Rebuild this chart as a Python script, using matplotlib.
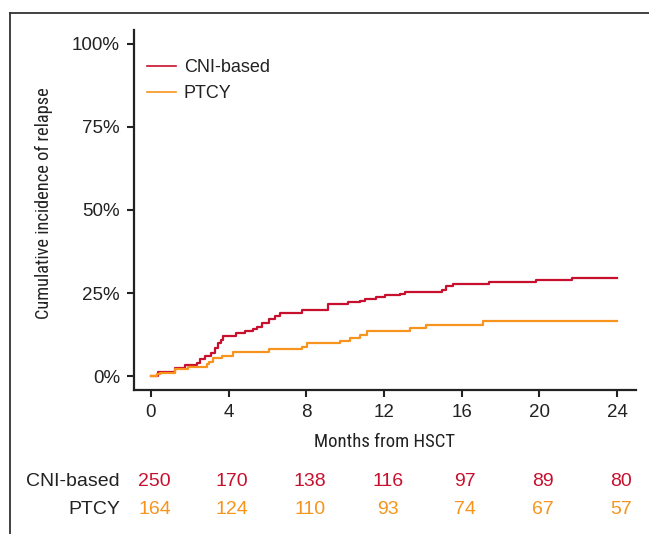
import matplotlib
matplotlib.use("Agg")
import matplotlib.pyplot as plt
from matplotlib.lines import Line2D
import matplotlib.transforms as mtransforms

# ---- data ----
cni_t = [0, 0.35, 1.24, 1.75, 2.37, 2.5, 2.8, 3.1, 3.3, 3.45, 3.6, 3.7, 4.4, 4.85, 5.25, 5.45,
         5.7, 6.1, 6.4, 6.65, 7.8, 9.1, 10.15, 10.75, 11.0, 11.6, 12.05, 12.8, 13.1, 15.0, 15.2,
         15.55, 17.4, 19.8, 21.7, 24]
cni_v = [0, 1.2, 2.4, 3.3, 3.9, 5.0, 6.0, 7.0, 8.5, 10.0, 11.0, 12.0, 13.0, 13.6, 14.2, 14.8,
         16.0, 17.2, 18.2, 19.0, 20.0, 21.7, 22.2, 22.6, 23.2, 23.8, 24.3, 24.7, 25.3, 25.9, 27.1,
         27.7, 28.3, 28.9, 29.5, 29.5]
ptcy_t = [0, 0.3, 0.45, 1.24, 1.9, 2.9, 3.0, 3.2, 3.65, 4.2, 6.1, 7.8, 8.05, 9.75, 10.25, 10.75,
          11.1, 13.35, 14.15, 17.1, 24]
ptcy_v = [0, 0.6, 0.9, 2.1, 2.7, 3.6, 4.2, 5.4, 6.0, 7.2, 8.1, 8.7, 9.9, 10.5, 11.4, 12.3,
          13.5, 14.4, 15.3, 16.6, 16.6]

risk_times = [0, 4, 8, 12, 16, 20, 24]
cni_risk = [250, 170, 138, 116, 97, 89, 80]
ptcy_risk = [164, 124, 110, 93, 74, 67, 57]
groups = ["CNI-based", "PTCY"]
y_ticks = [0, 25, 50, 75, 100]
y_ticklabels = ["0%", "25%", "50%", "75%", "100%"]

RED = "#C8102E"
ORANGE = "#F7941D"
DARK = "#222222"

plt.rcParams["font.family"] = ["Liberation Sans", "DejaVu Sans"]
narrow = ["Roboto Condensed", "Archivo Narrow", "DejaVu Sans"]

fig = plt.figure(figsize=(6.49, 5.34), dpi=100)
ax = fig.add_axes([134 / 649, 1 - 390 / 534, (636 - 134) / 649, (390 - 30) / 534])

ax.step(cni_t, cni_v, where="post", color=RED, lw=1.6, label=groups[0])
ax.step(ptcy_t, ptcy_v, where="post", color=ORANGE, lw=1.6, label=groups[1])

ax.set_xlim(-0.875, 24.97)
ax.set_ylim(-4.2, 104.2)
ax.set_xticks(risk_times)
ax.set_yticks(y_ticks)
ax.set_yticklabels(y_ticklabels)
for s in ["top", "right"]:
    ax.spines[s].set_visible(False)
for s in ["left", "bottom"]:
    ax.spines[s].set_linewidth(1.6)
    ax.spines[s].set_color(DARK)
ax.tick_params(axis="both", direction="out", length=5, width=1.5, color=DARK,
               labelsize=13.5, labelcolor=DARK, pad=5)

ax.set_xlabel("Months from HSCT", fontsize=13.5, family=narrow, color=DARK, labelpad=9)
ax.set_ylabel("Cumulative incidence of relapse", fontsize=13.2, family=narrow, color=DARK)
ax.yaxis.set_label_coords(-0.161, 0.519)

leg = ax.legend(loc="upper left", bbox_to_anchor=(0.0, 0.955), frameon=False, fontsize=13,
                handlelength=1.6, handletextpad=0.45, labelspacing=0.5, borderaxespad=0.3)
for t in leg.get_texts():
    t.set_color(DARK)
for h in leg.legend_handles:
    h.set_linewidth(1.2)

# number at risk
off = mtransforms.ScaledTranslation(3.5 / 100, 0, fig.dpi_scale_trans)
trans = mtransforms.blended_transform_factory(ax.transData, fig.transFigure) + off
rows = [(cni_risk, RED, 1 - 481 / 534), (ptcy_risk, ORANGE, 1 - 509 / 534)]
for (vals, col, yy), g in zip(rows, groups):
    fig.text(120 / 649, yy, g, ha="right", va="center", fontsize=14, color=DARK)
    for t, v in zip(risk_times, vals):
        ax.text(t, yy, str(v), transform=trans, ha="center", va="center", fontsize=14,
                color=col, clip_on=False)

# outer frame
fig.add_artist(Line2D([10 / 649, 1.0], [1 - 13 / 534, 1 - 13 / 534], transform=fig.transFigure,
                      color="#333333", lw=1.3))
fig.add_artist(Line2D([10 / 649, 10 / 649], [0, 1 - 13 / 534], transform=fig.transFigure,
                      color="#333333", lw=1.3))

fig.savefig("out.png", dpi=100)
